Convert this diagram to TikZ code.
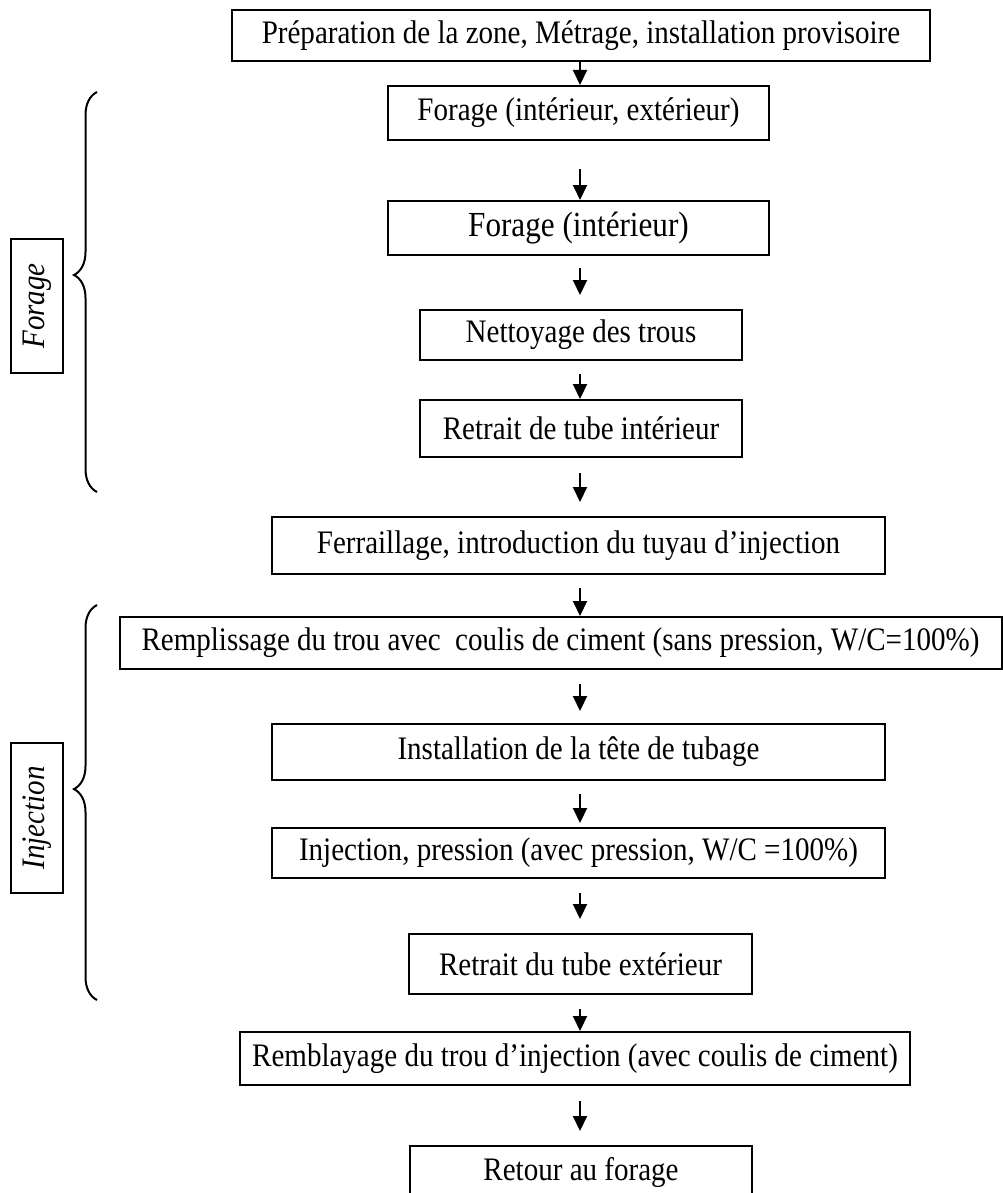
\documentclass[tikz,border=0pt]{standalone}
\usepackage{fontspec}
\setmainfont{Liberation Serif}[FakeStretch=0.885]
\usetikzlibrary{arrows.meta}
\usetikzlibrary{decorations.pathreplacing}
\tikzset{
    stepbox/.style={
        draw,
        rectangle,
        line width=1pt,
        inner sep=2pt,
        font=\fontsize{16.4}{19}\selectfont
    },
    bigtext/.style={
        font=\fontsize{17.6}{20}\selectfont
    },
    phase/.style={
        draw,
        rectangle,
        line width=1pt,
        rotate=90,
        minimum height=26pt,
        font=\fontsize{16.4}{19}\selectfont\itshape
    },
    arr/.style={
        -{Triangle[length=7.5pt, width=7pt]},
        line width=1pt
    },
    grp/.style={
        decorate,
        decoration={brace, mirror, amplitude=11.5pt, aspect=#1},
        line width=1pt
    }
}

\begin{document}
\begin{tikzpicture}[x=0.5pt, y=-0.5pt]
  \useasboundingbox (0,0) rectangle (1002,1193);

  % Steps
  \node[stepbox, minimum width=349pt, minimum height=25.5pt] (prep) at (581,35.5) {Préparation de la zone, Métrage, installation provisoire};
  \node[stepbox, minimum width=190.5pt, minimum height=27pt] (forie) at (578.5,113) {Forage (intérieur, extérieur)};
  \node[stepbox, bigtext, minimum width=190.5pt, minimum height=27pt] (fori) at (578.5,228) {Forage (intérieur)};
  \node[stepbox, minimum width=161pt, minimum height=25pt] (nett) at (581,335) {Nettoyage des trous};
  \node[stepbox, minimum width=161pt, minimum height=28.5pt] (reti) at (581,428.5) {Retrait de tube intérieur};
  \node[stepbox, minimum width=306.5pt, minimum height=28.5pt] (ferr) at (578.5,545.5) {Ferraillage, introduction du tuyau d’injection};
  \node[stepbox, minimum width=441pt, minimum height=26pt] (remp) at (560.5,643) {Remplissage du trou avec\ \ coulis de ciment (sans pression, W/C=100\%)};
  \node[stepbox, minimum width=306.5pt, minimum height=28pt] (inst) at (578.5,752) {Installation de la tête de tubage};
  \node[stepbox, minimum width=306.5pt, minimum height=25pt] (injp) at (578.5,853) {Injection, pression (avec pression, W/C =100\%)};
  \node[stepbox, minimum width=171.5pt, minimum height=30pt] (rete) at (580.5,964) {Retrait du tube extérieur};
  \node[stepbox, minimum width=335pt, minimum height=26.5pt] (remb) at (575,1058.5) {Remblayage du trou d’injection (avec coulis de ciment)};
  \node[stepbox, minimum width=171pt, minimum height=26.5pt] (reto) at (581,1172.5) {Retour au forage};

  % Arrows
  \coordinate (spine) at (580,0);
  \draw[arr] (prep.south -| spine) -- (forie.north -| spine);
  \draw[arr, shorten <=14pt] (forie.south -| spine) -- (fori.north -| spine);
  \draw[arr, shorten <=6pt, shorten >=7pt] (fori.south -| spine) -- (nett.north -| spine);
  \draw[arr, shorten <=6.5pt] (nett.south -| spine) -- (reti.north -| spine);
  \draw[arr, shorten <=7.5pt, shorten >=7pt] (reti.south -| spine) -- (ferr.north -| spine);
  \draw[arr, shorten <=6.5pt] (ferr.south -| spine) -- (remp.north -| spine);
  \draw[arr, shorten <=7pt, shorten >=6pt] (remp.south -| spine) -- (inst.north -| spine);
  \draw[arr, shorten <=6.5pt, shorten >=2pt] (inst.south -| spine) -- (injp.north -| spine);
  \draw[arr, shorten <=7pt, shorten >=7pt] (injp.south -| spine) -- (rete.north -| spine);
  \draw[arr, shorten <=7pt] (rete.south -| spine) -- (remb.north -| spine);
  \draw[arr, shorten <=7.5pt, shorten >=7pt] (remb.south -| spine) -- (reto.north -| spine);

  % Phases
  \coordinate (fortop) at (97,92);
  \coordinate (forbot) at (97,492);
  \coordinate (injtop) at (97,605);
  \coordinate (injbot) at (97,1000);
  \draw[grp=0.4575] (fortop) -- (forbot);
  \draw[grp=0.466] (injtop) -- (injbot);
  \node[phase, minimum width=67pt] (forlab) at (37,306) {Forage};
  \node[phase, minimum width=75pt] (injlab) at (37,818) {Injection};
\end{tikzpicture}
\end{document}
